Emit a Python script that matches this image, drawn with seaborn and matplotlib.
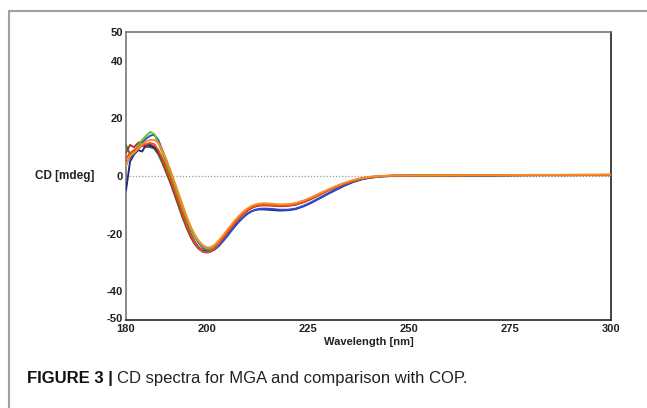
import matplotlib
matplotlib.use("Agg")
import matplotlib.pyplot as plt
from matplotlib.lines import Line2D
from matplotlib.ticker import MultipleLocator
import matplotlib.transforms as mtransforms
import seaborn as sns
import pandas as pd

# ---------------- data ----------------
wavelength = [180, 181, 182, 183, 184, 185, 186, 187, 188, 189, 190, 191, 192, 193, 194, 195,
              196, 197, 198, 199, 200, 201, 202, 203, 204, 205, 206, 207, 208, 209, 210, 211,
              212, 213, 214, 216, 218, 220, 222, 224, 226, 228, 230, 232, 234, 236, 238, 240,
              243, 246, 250, 260, 270, 280, 290, 300]

cd_darkgreen = [10.7, 7.5, 8.5, 9.5, 10.5, 10.2, 10, 9.5, 7.5, 4.5, 1, -2.5, -6.5, -10.5, -14.5, -18,
                -21.2, -23.6, -25.2, -25.9, -26, -25.6, -24.7, -23.2, -21.4, -19.5, -17.7, -16, -14.4,
                -13, -11.8, -10.9, -10.3, -10, -9.9, -10, -10.2, -10.1, -9.6, -8.7, -7.5, -6.1, -4.8,
                -3.6, -2.5, -1.6, -0.9, -0.4, 0, 0.1, 0.2, 0.2, 0.3, 0.3, 0.4, 0.4]
cd_brown = [8, 10.8, 10, 11.5, 12, 10, 11, 10, 8, 5, 1.5, -2, -6, -10, -14, -17.8, -21, -23.5,
            -25.3, -26.3, -26.6, -26.2, -25.2, -23.7, -21.9, -20, -18.2, -16.4, -14.8, -13.3,
            -12.1, -11.2, -10.6, -10.3, -10.2, -10.3, -10.5, -10.4, -10, -9.1, -7.9, -6.5, -5.1,
            -3.9, -2.8, -1.8, -1.1, -0.5, -0.1, 0.1, 0.1, 0.2, 0.2, 0.3, 0.3, 0.3]
cd_navy = [-5, 5, 7.5, 9, 8.5, 11, 10.5, 10, 8.5, 6, 3, -0.5, -4.5, -8.5, -12.5, -16.5, -20,
           -22.8, -24.8, -26, -26.3, -26.1, -25.3, -24, -22.4, -20.7, -19, -17.3, -15.7, -14.3,
           -13.1, -12.3, -11.8, -11.6, -11.6, -11.8, -12, -11.9, -11.5, -10.5, -9.2, -7.7, -6.2,
           -4.8, -3.4, -2.2, -1.3, -0.7, -0.2, 0, 0.1, 0.2, 0.2, 0.3, 0.3, 0.3]
cd_blue = [5, 6, 8, 9.5, 11.5, 13, 14, 14.3, 12.5, 9, 5.5, 1.5, -2.5, -6.5, -10.5, -14.5, -18,
           -21, -23.3, -25, -25.8, -26, -25.5, -24.3, -22.7, -21, -19.2, -17.4, -15.8, -14.4,
           -13.2, -12.3, -11.7, -11.4, -11.3, -11.4, -11.7, -11.7, -11.3, -10.3, -9, -7.5, -6,
           -4.6, -3.3, -2.1, -1.2, -0.6, -0.1, 0.1, 0.1, 0.2, 0.2, 0.3, 0.3, 0.4]
cd_green = [3.5, 7, 8.5, 10.5, 12.5, 14, 15.3, 14.5, 11.5, 8, 4, 0.5, -3.5, -7.5, -11.5, -15,
            -18.5, -21, -23, -24.5, -25.3, -25.2, -24.3, -22.8, -21, -19.3, -17.5, -15.8, -14.2,
            -12.8, -11.6, -10.7, -10.1, -9.7, -9.6, -9.7, -10, -9.9, -9.5, -8.6, -7.5, -6.2,
            -4.9, -3.7, -2.6, -1.7, -1, -0.5, -0.1, 0.1, 0.1, 0.2, 0.3, 0.3, 0.4, 0.4]
cd_red = [6, 8, 9, 10, 10.5, 11, 11.5, 11, 9, 6, 2.5, -1, -5, -9, -13, -17, -20.3, -23, -25,
          -26.2, -26.5, -26, -25, -23.5, -21.7, -19.8, -18, -16.2, -14.6, -13.1, -11.9, -11,
          -10.4, -10.1, -10, -10.1, -10.3, -10.2, -9.8, -8.9, -7.7, -6.3, -5, -3.8, -2.7, -1.8,
          -1, -0.5, -0.1, 0.1, 0.1, 0.2, 0.3, 0.3, 0.3, 0.4]
cd_orange = [4, 7, 8, 9.5, 11, 12, 12.5, 12.5, 11.5, 9, 5.5, 2, -2, -6, -10, -14, -17.5, -20.3,
             -22.5, -24, -24.8, -24.7, -23.8, -22.3, -20.6, -18.8, -17, -15.3, -13.8, -12.4,
             -11.3, -10.4, -9.9, -9.6, -9.5, -9.6, -9.9, -9.8, -9.4, -8.5, -7.3, -6, -4.7, -3.5,
             -2.4, -1.5, -0.8, -0.3, 0, 0.2, 0.2, 0.3, 0.3, 0.4, 0.4, 0.5]

series_names = ["s1", "s2", "s3", "s4", "s5", "s6", "s7"]
series_values = [cd_darkgreen, cd_brown, cd_navy, cd_blue, cd_green, cd_red, cd_orange]
series_colors = ["#2a7a3c", "#a5372a", "#1f2580", "#2f4fd0", "#5cc02a", "#ec4a1c", "#ff8a24"]

x_ticks = [180, 200, 225, 250, 275, 300]
y_ticks = [-50, -40, -20, 0, 20, 40, 50]

rows = []
for name, vals in zip(series_names, series_values):
    for w, v in zip(wavelength, vals):
        rows.append({"wavelength": w, "cd": v, "series": name})
df = pd.DataFrame(rows)

# ---------------- figure ----------------
sns.set_style("white")
plt.rcParams["font.family"] = ["Liberation Sans", "DejaVu Sans"]
plt.rcParams["axes.unicode_minus"] = False

fig = plt.figure(figsize=(6.47, 4.08), dpi=100)
W, H = 647, 408
ax = fig.add_axes([126 / W, 1 - 320 / H, (611 - 126) / W, (320 - 32) / H])

ax.axhline(0, color="#9a9a9a", lw=0.9, ls=(0, (1, 1.5)), zorder=1)

sns.lineplot(data=df, x="wavelength", y="cd", hue="series", hue_order=series_names,
             palette=dict(zip(series_names, series_colors)), linewidth=1.35,
             legend=False, ax=ax, zorder=3)

ax.set_xlim(180, 300)
ax.set_ylim(-50, 50)
ax.set_xticks(x_ticks)
ax.set_yticks(y_ticks)
ax.xaxis.set_minor_locator(MultipleLocator(5))
ax.tick_params(axis="both", which="major", direction="in", length=5, width=1,
               color="#555555", labelsize=8, labelcolor="#222222", pad=2)
ax.tick_params(axis="x", which="minor", direction="in", length=3, width=0.8, color="#555555")
ax.tick_params(axis="x", which="major", pad=3)
for lab in ax.get_xticklabels() + ax.get_yticklabels():
    lab.set_fontweight("bold")

# nudge the -50 label up slightly (as in the reference)
ylabels = ax.get_yticklabels()
ylabels[0].set_transform(ylabels[0].get_transform() +
                         mtransforms.ScaledTranslation(0, 2 / 100, fig.dpi_scale_trans))

for side in ["left", "top"]:
    ax.spines[side].set_color("#777777")
    ax.spines[side].set_linewidth(1.2)
for side in ["bottom", "right"]:
    ax.spines[side].set_color("#222222")
    ax.spines[side].set_linewidth(1.2)

ax.set_xlabel("Wavelength [nm]", fontsize=8, fontweight="bold", color="#222222", labelpad=2)
ax.set_ylabel("")
fig.text(94 / W, 1 - 176 / H, "CD [mdeg]", ha="right", va="center", fontsize=8.5,
         fontweight="bold", color="#222222")

# outer frame lines
fig.add_artist(Line2D([9 / W, 1], [1 - 11 / H, 1 - 11 / H], color="#a0a0a0", lw=1.5,
                      transform=fig.transFigure))
fig.add_artist(Line2D([9 / W, 9 / W], [0, 1 - 11 / H], color="#a0a0a0", lw=1.5,
                      transform=fig.transFigure))

# caption
t1 = fig.text(27 / W, 1 - 378 / H, "FIGURE 3 |", ha="left", va="center", fontsize=12,
              fontweight="bold", color="#111111")
fig.canvas.draw()
bb = t1.get_window_extent(renderer=fig.canvas.get_renderer())
x_next = (bb.x1 + 4) / W
fig.text(x_next, 1 - 378 / H, "CD spectra for MGA and comparison with COP.", ha="left",
         va="center", fontsize=12, color="#222222")

fig.savefig("out.png", dpi=100)
